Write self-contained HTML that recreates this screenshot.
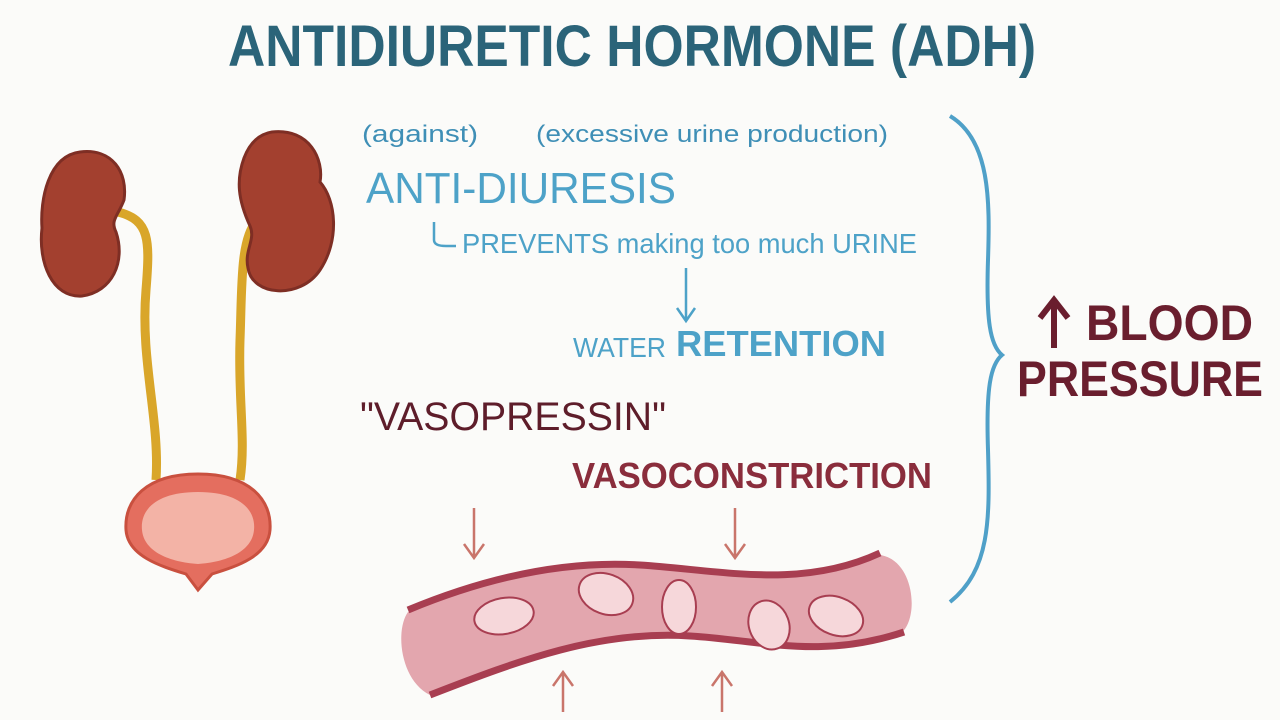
<!DOCTYPE html>
<html><head><meta charset="utf-8"><style>
html,body{margin:0;padding:0;background:#fbfbf9;}
svg{display:block}
text{font-family:"Liberation Sans",sans-serif;}
</style></head><body>
<svg width="1280" height="720" viewBox="0 0 1280 720">
<rect width="1280" height="720" fill="#fbfbf9"/>
<text x="228" y="66" font-size="58" font-weight="bold" fill="#2b6479" textLength="808" lengthAdjust="spacingAndGlyphs">ANTIDIURETIC HORMONE (ADH)</text>

<!-- kidneys and ureters -->
<g>
<path d="M118,212 C150,220 150,240 146,290 C140,360 160,420 156,480" fill="none" stroke="#d9a62a" stroke-width="9"/>
<path d="M256,222 C240,240 242,290 240,340 C238,400 246,440 240,480" fill="none" stroke="#d9a62a" stroke-width="9"/>
<path d="M80,152 C112,148 128,172 124,200 C118,216 110,220 116,232 C126,262 112,292 82,296 C52,298 38,262 42,228 C40,200 48,156 80,152 Z" fill="#a3402f" stroke="#7e2e24" stroke-width="3"/>
<path d="M272,132 C310,128 324,160 320,182 C336,200 340,240 320,270 C300,300 252,296 248,268 C244,250 256,240 250,226 C238,200 236,180 244,158 C250,142 260,134 272,132 Z" fill="#a3402f" stroke="#7e2e24" stroke-width="3"/>
<path d="M198,474 C250,474 272,500 270,530 C268,556 238,566 212,574 L198,590 L186,574 C160,566 128,556 126,530 C124,500 146,474 198,474 Z" fill="#e46e5f" stroke="#c9503f" stroke-width="3"/>
<path d="M198,492 C240,492 256,510 254,530 C252,552 226,562 198,564 C170,562 144,552 142,530 C140,510 156,492 198,492 Z" fill="#f3b3a6"/>
</g>

<!-- blue text -->
<text x="362" y="142" font-size="24" fill="#3f8fb6" textLength="116" lengthAdjust="spacingAndGlyphs">(against)</text>
<text x="536" y="142" font-size="24" fill="#3f8fb6" textLength="352" lengthAdjust="spacingAndGlyphs">(excessive urine production)</text>
<text x="366" y="203" font-size="44" fill="#4da2c8" textLength="310" lengthAdjust="spacingAndGlyphs">ANTI-DIURESIS</text>
<path d="M434,222 L434,240 Q434,246 446,246 L456,246" fill="none" stroke="#4da2c8" stroke-width="2.5"/>
<text x="462" y="253" font-size="28" fill="#4da2c8" textLength="455" lengthAdjust="spacingAndGlyphs">PREVENTS making too much URINE</text>
<path d="M686,268 L686,320 M677,308 L686,321 L695,308" fill="none" stroke="#4da2c8" stroke-width="2.5"/>
<text x="573" y="357" font-size="28" fill="#4da2c8" textLength="93" lengthAdjust="spacingAndGlyphs">WATER</text>
<text x="676" y="356" font-size="36" font-weight="bold" fill="#4da2c8" textLength="210" lengthAdjust="spacingAndGlyphs">RETENTION</text>

<!-- red text -->
<text x="360" y="430" font-size="40" fill="#5e1d2a" textLength="306" lengthAdjust="spacingAndGlyphs">"VASOPRESSIN"</text>
<text x="572" y="488" font-size="36" font-weight="bold" fill="#8a2d3c" textLength="360" lengthAdjust="spacingAndGlyphs">VASOCONSTRICTION</text>

<!-- blood vessel -->
<g>
<path d="M408,612 C480,580 560,560 640,565 C720,570 800,590 880,555 C915,560 920,620 900,634 C820,660 760,640 690,636 C600,630 520,660 430,695 C400,680 395,630 408,612 Z" fill="#e3a6ae"/>
<path d="M408,610 C480,580 560,560 640,565 C720,570 800,590 880,553" fill="none" stroke="#a83e51" stroke-width="7"/>
<path d="M430,695 C520,660 600,630 690,636 C760,640 820,660 904,632" fill="none" stroke="#a83e51" stroke-width="7"/>
<g fill="#f6d7da" stroke="#a83e51" stroke-width="2">
<ellipse cx="504" cy="616" rx="30" ry="18" transform="rotate(-10 504 616)"/>
<ellipse cx="606" cy="594" rx="28" ry="20" transform="rotate(20 606 594)"/>
<ellipse cx="679" cy="607" rx="17" ry="27"/>
<ellipse cx="769" cy="625" rx="20" ry="25" transform="rotate(-20 769 625)"/>
<ellipse cx="836" cy="616" rx="28" ry="19" transform="rotate(20 836 616)"/>
</g>
</g>
<g fill="none" stroke="#c9756b" stroke-width="2.5">
<path d="M474,508 L474,558 M464,544 L474,558 L484,544"/>
<path d="M735,508 L735,558 M725,544 L735,558 L745,544"/>
<path d="M563,712 L563,672 M553,686 L563,672 L573,686"/>
<path d="M722,712 L722,672 M712,686 L722,672 L732,686"/>
</g>

<!-- brace -->
<path d="M950,116 C990,140 990,200 988,260 C986,320 990,345 1002,355 C990,365 986,390 988,450 C990,520 990,570 950,602" fill="none" stroke="#4fa0c8" stroke-width="4"/>

<g fill="#6a1e2e" font-weight="bold">
<path d="M1054,348 L1054,302 M1040,318 L1054,300 L1068,318" fill="none" stroke="#6a1e2e" stroke-width="6"/>
<text x="1086" y="340" font-size="50" textLength="167" lengthAdjust="spacingAndGlyphs">BLOOD</text>
<text x="1017" y="396" font-size="50" textLength="246" lengthAdjust="spacingAndGlyphs">PRESSURE</text>
</g>
</svg>
</body></html>
